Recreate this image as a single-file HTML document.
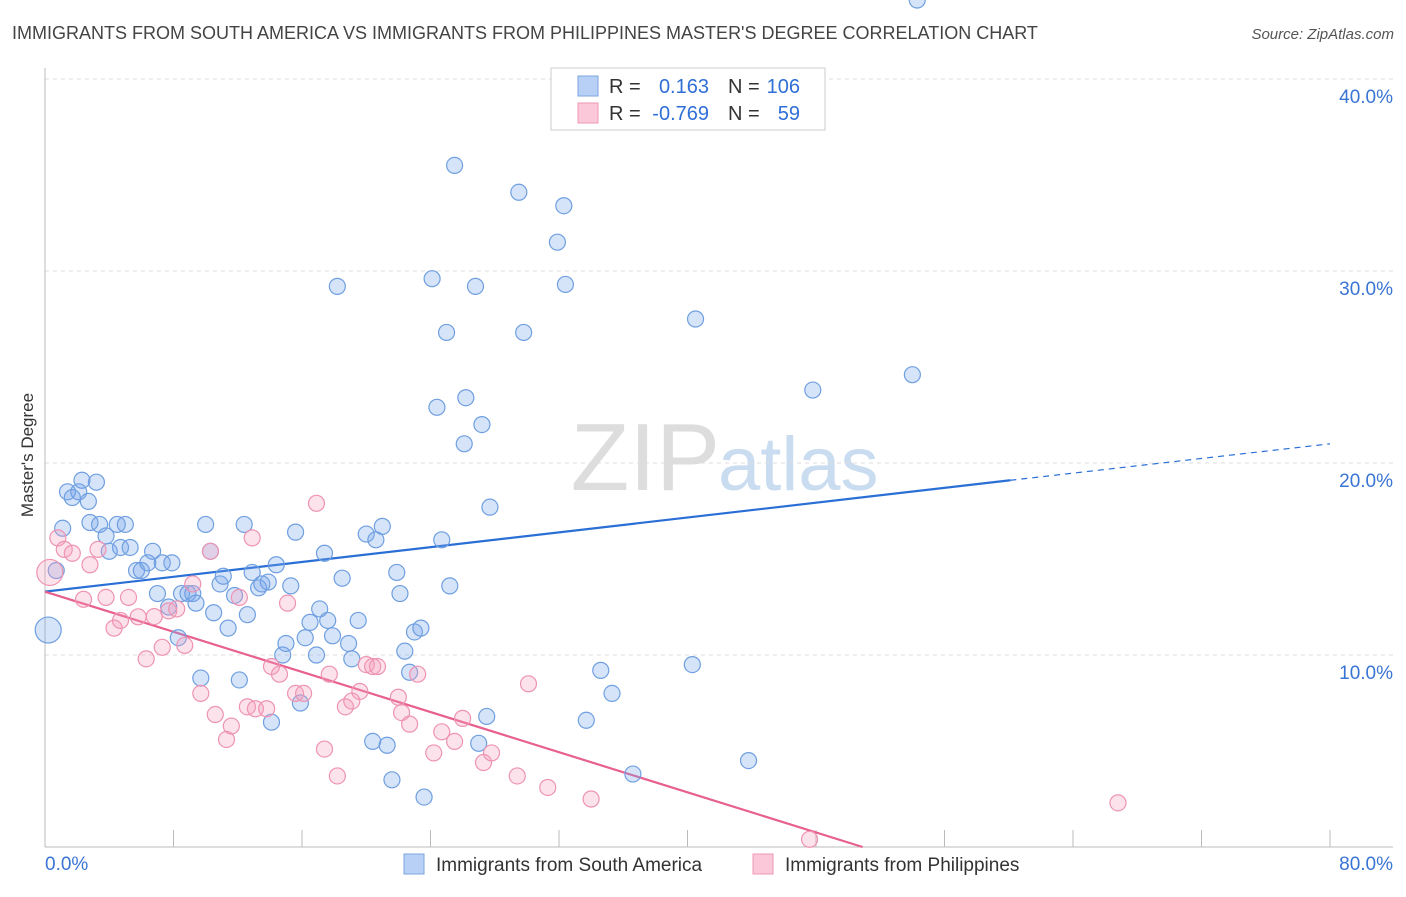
<!DOCTYPE html>
<html><head><meta charset="utf-8"><style>
body{margin:0;background:#fff;font-family:"Liberation Sans",sans-serif}
svg text{font-family:"Liberation Sans",sans-serif}
</style></head><body>
<svg id="chart" width="1406" height="892" xmlns="http://www.w3.org/2000/svg">
<text x="12" y="39" font-size="18" fill="#444">IMMIGRANTS FROM SOUTH AMERICA VS IMMIGRANTS FROM PHILIPPINES MASTER'S DEGREE CORRELATION CHART</text>
<text x="1394" y="39" font-size="15" fill="#555" font-style="italic" text-anchor="end">Source: ZipAtlas.com</text>
<text x="720" y="490" font-size="96" fill="#ddd" text-anchor="end" font-family="Liberation Serif">ZIP</text>
<text x="718" y="490" font-size="76" fill="#c9dcf0">atlas</text>
<g id="grid"></g><g id="axes"></g><g id="lines"></g><g id="pts"></g>
<text transform="translate(33,455) rotate(-90)" font-size="17" fill="#333" text-anchor="middle">Master's Degree</text>
<g>
<rect x="551" y="68" width="274" height="62" fill="#fff" stroke="#ccc"/>
<rect x="578" y="76" width="20" height="20" fill="#b8d0f5" stroke="#7ea6e0"/>
<text x="609" y="93" font-size="20" fill="#333">R =</text><text x="709" y="93" font-size="20" fill="#2f6fd6" text-anchor="end">0.163</text>
<text x="728" y="93" font-size="20" fill="#333">N =</text><text x="800" y="93" font-size="20" fill="#2f6fd6" text-anchor="end">106</text>
<rect x="578" y="103" width="20" height="20" fill="#fac8d8" stroke="#ee9ab5"/>
<text x="609" y="120" font-size="20" fill="#333">R =</text><text x="709" y="120" font-size="20" fill="#2f6fd6" text-anchor="end">-0.769</text>
<text x="728" y="120" font-size="20" fill="#333">N =</text><text x="800" y="120" font-size="20" fill="#2f6fd6" text-anchor="end">59</text>
</g>
<g>
<rect x="404" y="854" width="20" height="20" fill="#b8d0f5" stroke="#7ea6e0"/>
<text x="436" y="871" font-size="19" fill="#333">Immigrants from South America</text>
<rect x="753" y="854" width="20" height="20" fill="#fac8d8" stroke="#ee9ab5"/>
<text x="785" y="871" font-size="19" fill="#333">Immigrants from Philippines</text>
</g>
</svg>
<script>
const xTicks=[0,8,16,24,32,40,48,56,64,72,80];
const yTicks=[10,20,30,40];
const blueTrend=[13.3,19.1,21.0];
const pinkTrend=[13.3,0];
const blueX=[0.2,1.1,0.7,1.4,1.7,2.1,2.3,2.7,3.2,2.8,3.4,3.8,4.0,4.5,4.7,5.0,5.3,5.7,6.0,6.4,6.7,7.0,7.3,7.7,7.9,8.3,8.5,8.9,9.2,9.4,9.7,10.0,10.3,10.5,10.9,11.1,11.4,11.8,12.1,12.4,12.6,12.9,13.3,13.5,13.9,14.1,14.4,14.8,15.0,15.3,15.6,15.9,16.2,16.5,16.9,17.1,17.4,17.6,17.9,18.2,18.5,18.9,19.1,19.5,20.0,20.4,20.6,21.0,21.3,21.6,21.9,22.1,22.4,22.7,23.0,23.4,23.6,24.1,24.4,24.7,25.0,25.2,25.5,26.1,26.2,26.8,27.0,27.2,27.7,27.5,29.5,29.8,31.9,32.3,32.4,33.7,34.6,35.3,36.6,40.3,40.5,43.8,47.8,54.0,54.3];
const blueY=[11.3,16.6,14.4,18.5,18.2,18.5,19.1,18.0,19.0,16.9,16.8,16.2,15.4,16.8,15.6,16.8,15.6,14.4,14.4,14.8,15.4,13.2,14.8,12.5,14.8,10.9,13.2,13.2,13.2,12.7,8.8,16.8,15.4,12.2,13.7,14.1,11.4,13.1,8.7,16.8,12.1,14.3,13.5,13.7,13.8,6.5,14.7,10.0,10.6,13.6,16.4,7.5,10.9,11.7,10.0,12.4,15.3,11.8,11.0,29.2,14.0,10.6,9.8,11.8,16.3,5.5,16.0,16.7,5.3,3.5,14.3,13.2,10.2,9.1,11.2,11.4,2.6,29.6,22.9,16.0,26.8,13.6,35.5,21.0,23.4,29.2,5.4,22.0,17.7,6.8,34.1,26.8,31.5,33.4,29.3,6.6,9.2,8.0,3.8,9.5,27.5,4.5,23.8,24.6];
const pinkX=[0.3,0.8,1.2,1.7,2.4,2.8,3.3,3.8,4.3,4.7,5.2,5.8,6.3,6.8,7.3,7.7,8.2,8.7,9.2,9.7,10.3,10.6,11.3,11.6,12.1,12.6,12.9,13.1,13.8,14.1,14.6,15.1,15.6,16.1,16.9,17.4,17.7,18.2,18.7,19.1,19.6,20.0,20.4,20.7,22.0,22.2,22.7,23.2,24.2,24.7,25.5,26.0,27.3,27.8,29.4,30.1,31.3,34.0,47.6,66.8];
const pinkY=[14.3,16.1,15.5,15.3,12.9,14.7,15.5,13.0,11.4,11.8,13.0,11.989,9.8,12.0,10.4,12.3,12.4,10.5,13.7,8.0,15.4,6.9,5.6,6.3,13.0,7.3,16.1,7.2,7.2,9.4,9.0,12.7,8.0,8.0,17.9,5.1,9.0,3.7,7.3,7.6,8.1,9.5,9.4,9.4,7.8,7.0,6.4,9.0,4.9,6.0,5.5,6.7,4.4,4.9,3.7,8.5,3.1,2.5,0.4,2.3];
const SVGNS="http://www.w3.org/2000/svg";
const X=v=>45+v*16.0625, Y=v=>847-v*19.2;
function mk(parent,tag,attrs){const e=document.createElementNS(SVGNS,tag);for(const k in attrs)e.setAttribute(k,attrs[k]);document.getElementById(parent).appendChild(e);return e;}
yTicks.forEach(t=>{
 const l=mk('grid','line',{x1:45,x2:1393,y1:Y(t),y2:Y(t),stroke:'#ddd','stroke-dasharray':'4,4'});
 
 
 const tx=mk('grid','text',{x:1393,y:Y(t)+24,'font-size':19,fill:'#3a74d4','text-anchor':'end'});tx.textContent=t.toFixed(1)+'%';
 
 
});
const ax=mk('axes','line',{x1:45,x2:1393,y1:847,y2:847,stroke:'#bbb'});


const ay=mk('axes','line',{x1:45,x2:45,y1:68,y2:847,stroke:'#bbb'});


xTicks.forEach(t=>{
 const l=mk('axes','line',{x1:X(t),x2:X(t),y1:830,y2:847,stroke:'#bbb'});
 
 
});
[[0,'start'],[80,'end']].forEach(([t,a])=>{
 const tx=mk('axes','text',{x:t==0?45:1393,y:870,'font-size':19,fill:'#3a74d4','text-anchor':a});tx.textContent=t.toFixed(1)+'%';
 
 
});
blueX.forEach((x,i)=>{
 const c=mk('pts','circle',{cx:X(x),cy:Y(blueY[i]),r:i==0?13:8,fill:'rgba(120,165,235,0.3)',stroke:'#6f9fe0','stroke-width':1.2});
 
 
});
pinkX.forEach((x,i)=>{
 const c=mk('pts','circle',{cx:X(x),cy:Y(pinkY[i]),r:i==0?13:8,fill:'rgba(245,160,190,0.3)',stroke:'#ee93b2','stroke-width':1.2});
 
 
});
const b1=mk('lines','line',{x1:X(0),y1:Y(blueTrend[0]),x2:X(60.1),y2:Y(blueTrend[1]),stroke:'#2a6fd6','stroke-width':2.2});


const b2=mk('lines','line',{x1:X(60.1),y1:Y(blueTrend[1]),x2:X(80),y2:Y(blueTrend[2]),stroke:'#2a6fd6','stroke-width':1.2,'stroke-dasharray':'6,5'});


const p1=mk('lines','line',{x1:X(0),y1:Y(pinkTrend[0]),x2:X(50.9),y2:Y(pinkTrend[1]),stroke:'#e8608f','stroke-width':2.2});


</script>
</body></html>
